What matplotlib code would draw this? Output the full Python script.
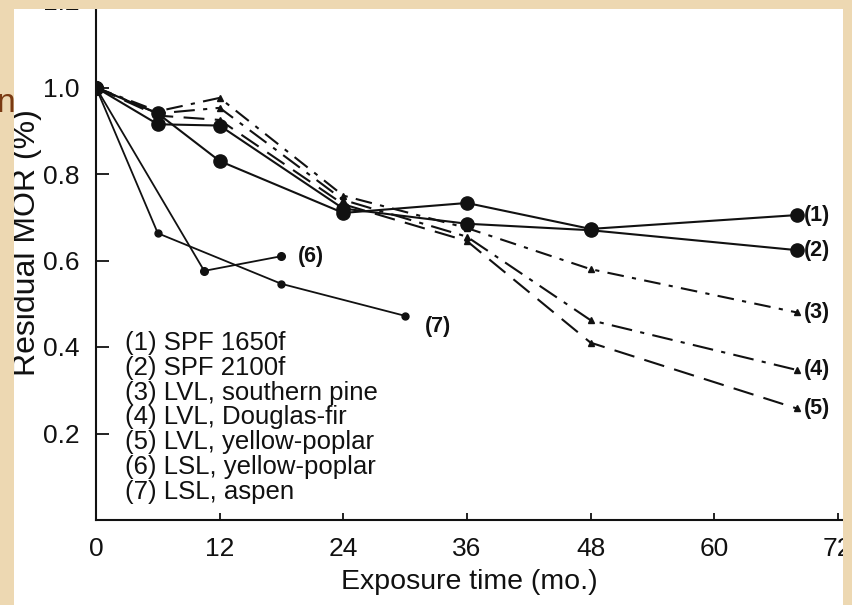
import matplotlib
matplotlib.use('Agg')
import matplotlib.pyplot as plt
from matplotlib.patches import Rectangle

plt.rcParams['font.family'] = ['Liberation Sans', 'DejaVu Sans']

# months of exposure and residual MOR
months = [0, 6, 12, 24, 36, 48, 68]
spf_1650 = [1.0, 0.94, 0.83, 0.71, 0.733, 0.673, 0.705]
spf_2100 = [1.0, 0.915, 0.912, 0.72, 0.685, 0.67, 0.624]
lvl_pine = [1.0, 0.945, 0.976, 0.75, 0.675, 0.58, 0.48]
lvl_fir = [1.0, 0.94, 0.953, 0.74, 0.655, 0.462, 0.347]
lvl_poplar = [1.0, 0.935, 0.925, 0.73, 0.645, 0.41, 0.258]

lsl_poplar_months = [0, 10.5, 18]
lsl_poplar = [1.0, 0.576, 0.61]
lsl_aspen_months = [0, 6, 18, 30]
lsl_aspen = [1.0, 0.663, 0.546, 0.472]

legend_lines = ['(1) SPF 1650f', '(2) SPF 2100f', '(3) LVL, southern pine',
                '(4) LVL, Douglas-fir', '(5) LVL, yellow-poplar',
                '(6) LSL, yellow-poplar', '(7) LSL, aspen']

x_ticks = [0, 12, 24, 36, 48, 60, 72]
y_ticks = [0.2, 0.4, 0.6, 0.8, 1.0, 1.2]

W, H = 852, 605
tan = '#EDD8B2'
ink = '#111111'

fig = plt.figure(figsize=(W / 100, H / 100), dpi=100)
fig.patch.set_facecolor(tan)
fig.add_artist(Rectangle((14 / W, 0), (843 - 14) / W, (H - 9) / H,
                         transform=fig.transFigure, facecolor='white',
                         edgecolor='none', zorder=-1))

ax = fig.add_axes([96 / W, 85 / H, 747 / W, 519 / H])
ax.set_facecolor('none')
ax.set_xlim(0, 72.5)
ax.set_ylim(0, 1.2)

lw = 1.5
ax.plot(months, spf_1650, color=ink, lw=lw, marker='o', ms=9.5)
ax.plot(months, spf_2100, color=ink, lw=lw, marker='o', ms=9.5)
ax.plot(months, lvl_pine, color=ink, lw=lw, ls=(0, (8, 4, 2, 4)), marker='^', ms=4.5)
ax.plot(months, lvl_fir, color=ink, lw=lw, ls=(0, (10, 4, 2, 4)), marker='^', ms=4.5)
ax.plot(months, lvl_poplar, color=ink, lw=lw, ls=(0, (10, 5)), marker='^', ms=4.5)
ax.plot(lsl_poplar_months, lsl_poplar, color=ink, lw=1.3, marker='o', ms=5.5)
ax.plot(lsl_aspen_months, lsl_aspen, color=ink, lw=1.3, marker='o', ms=5)
ax.plot([0], [1.0], color=ink, marker='o', ms=10)

# curve numbers
ends = [(months[-1], spf_1650[-1]), (months[-1], spf_2100[-1]),
        (months[-1], lvl_pine[-1]), (months[-1], lvl_fir[-1]),
        (months[-1], lvl_poplar[-1])]
for i, (xe, ye) in enumerate(ends):
    ax.annotate('(%d)' % (i + 1), (xe, ye), xytext=(5, 0), textcoords='offset points',
                ha='left', va='center', fontsize=15.5, fontweight='bold', color=ink)
ax.annotate('(6)', (lsl_poplar_months[-1], lsl_poplar[-1]), xytext=(12, 0),
            textcoords='offset points', ha='left', va='center', fontsize=15.5,
            fontweight='bold', color=ink)
ax.annotate('(7)', (lsl_aspen_months[-1], lsl_aspen[-1]), xytext=(14, -8),
            textcoords='offset points', ha='left', va='center', fontsize=15.5,
            fontweight='bold', color=ink)

for i, lab in enumerate(legend_lines):
    ax.text(0.039, 0.341 - i * 0.0478, lab, transform=ax.transAxes,
            ha='left', va='center', fontsize=18.5, color=ink)

ax.set_xticks(x_ticks)
ax.set_yticks(y_ticks)
ax.set_yticklabels(['%.1f' % v for v in y_ticks])
ax.tick_params(axis='y', direction='in', length=9, width=1.3, pad=12,
               labelsize=19, colors=ink)
ax.tick_params(axis='x', direction='in', length=5, width=1.3, pad=12,
               labelsize=19, colors=ink)
for s in ['top', 'right']:
    ax.spines[s].set_visible(False)
for s in ['left', 'bottom']:
    ax.spines[s].set_linewidth(1.5)
    ax.spines[s].set_color(ink)

ax.set_xlabel('Exposure time (mo.)', fontsize=20.5, color=ink, labelpad=6)
fig.text(27 / W, 1 - 243 / H, 'Residual MOR (%)', rotation=90, ha='center',
         va='center', fontsize=23, color=ink)

# tan slide border covering the cropped edges of the scan
for (x0, y0, w, h) in [(0, 0, 14, H), (0, H - 9, W, 9), (843, 0, W - 843, H)]:
    fig.add_artist(Rectangle((x0 / W, y0 / H), w / W, h / H, transform=fig.transFigure,
                             facecolor=tan, edgecolor='none', zorder=10))
fig.text(15 / W, 1 - 104 / H, 'n', ha='right', va='center', fontsize=24,
         color='#7A3A12', zorder=11)

fig.savefig('out.png', dpi=100, facecolor=fig.get_facecolor())
